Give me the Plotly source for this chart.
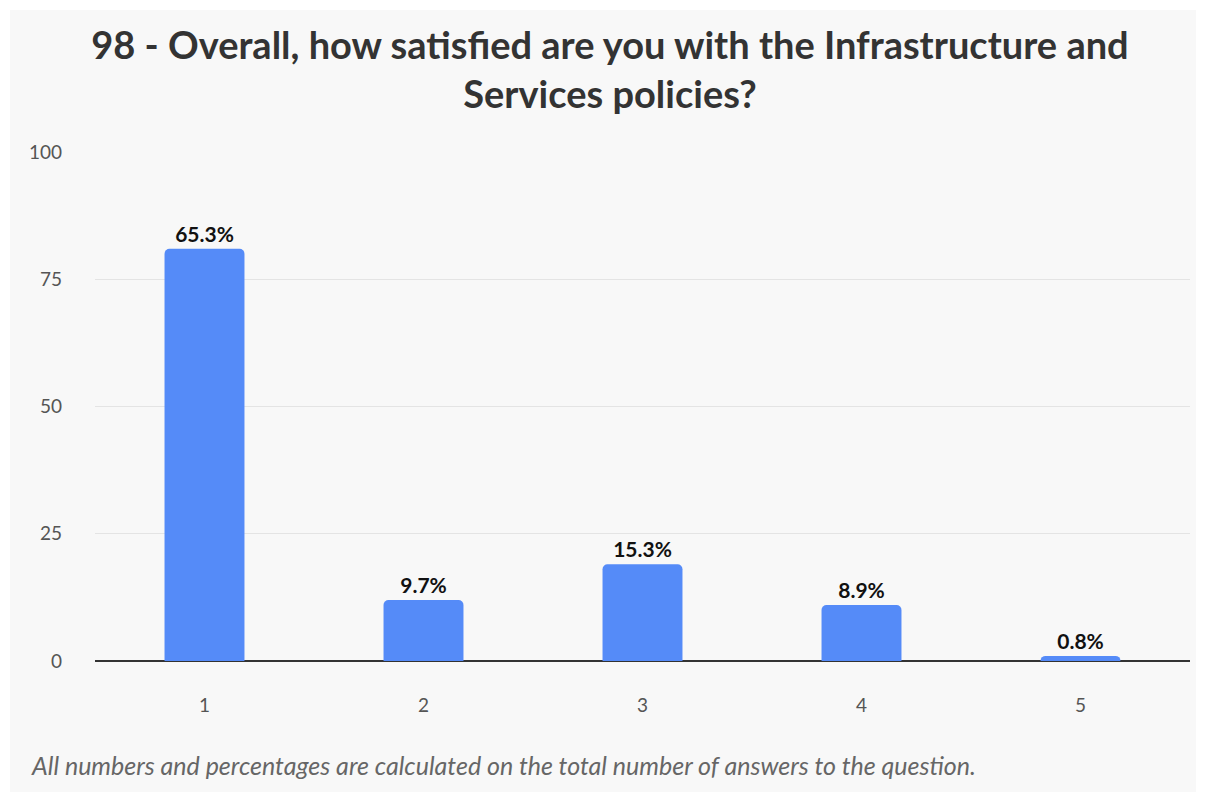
import plotly.graph_objects as go

categories = ["1", "2", "3", "4", "5"]
counts = [81, 12, 19, 11, 1]
pct_labels = ["65.3%", "9.7%", "15.3%", "8.9%", "0.8%"]
y_ticks = [0, 25, 50, 75, 100]

W, H = 1206, 802
L, R, T, B = 95, 16, 152, 141
pw, ph = W - L - R, H - T - B

fig = go.Figure(go.Bar(
    x=categories, y=counts, text=pct_labels, textposition="outside",
    textfont=dict(family="Lato", size=21, color="#111111", weight="bold"),
    marker=dict(color="#558bf8", line=dict(width=0)),
    cliponaxis=False, width=0.365,
))

fig.update_layout(
    width=W, height=H,
    margin=dict(l=L, r=R, t=T, b=B, autoexpand=False),
    paper_bgcolor="white", plot_bgcolor="rgba(0,0,0,0)",
    barcornerradius=5,
    showlegend=False,
    font=dict(family="Lato", color="#555555"),
    title=dict(
        text="98 - Overall, how satisfied are you with the Infrastructure and<br>Services policies?",
        x=610 / W, xanchor="center", y=1 - 59 / H, yanchor="middle",
        font=dict(family="Lato", size=38, color="#333333", weight="bold"),
    ),
    xaxis=dict(type="category", showgrid=False, showline=False, zeroline=False,
               tickfont=dict(size=19, color="#555555"), ticklabelstandoff=31),
    yaxis=dict(range=[0, 100], tickvals=y_ticks, showgrid=True, gridcolor="#e4e4e4",
               gridwidth=1, zeroline=True, zerolinecolor="#333333", zerolinewidth=2,
               showline=False, tickfont=dict(size=19, color="#555555"),
               ticklabelstandoff=32),
    shapes=[dict(type="rect", xref="paper", yref="paper", layer="below",
                 x0=(10 - L) / pw, x1=(1196 - L) / pw,
                 y0=(H - B - 792) / ph, y1=(H - B - 10) / ph,
                 fillcolor="#f8f8f8", line=dict(width=0))],
    annotations=[dict(
        text="All numbers and percentages are calculated on the total number of answers to the question.",
        xref="paper", yref="paper", x=(29 - L) / pw, y=(H - B - 765) / ph,
        xanchor="left", yanchor="middle", showarrow=False,
        font=dict(family="Lato", size=25, color="#666666", style="italic"),
    )],
)

fig.write_html("out.html")
